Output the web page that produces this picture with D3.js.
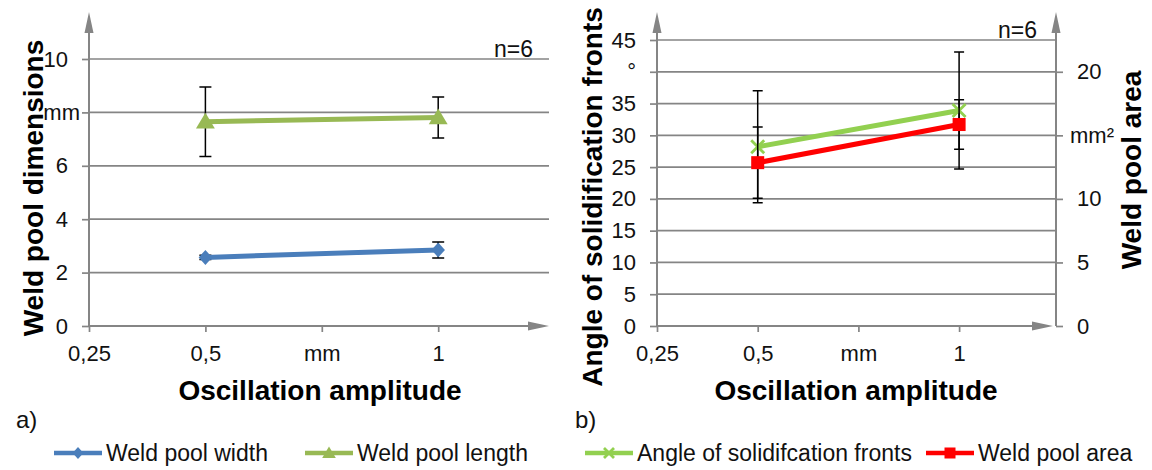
<!DOCTYPE html>
<html><head><meta charset="utf-8">
<script src="https://cdn.jsdelivr.net/npm/d3@7"></script>
<style>
body{margin:0;background:#fff;}
svg{font-family:"Liberation Sans",Arial,sans-serif;display:block;}
</style></head><body>
<svg id="c" width="1152" height="470"></svg>
<script>
// ---------- data ----------
const xCategories = ["0,25", "0,5", "mm", "1", ""];
const amplitudes = ["0,5", "1"];
const poolWidth = [2.57, 2.85];
const poolWidthErr = [0.08, 0.3];
const poolLength = [7.65, 7.81];
const poolLengthErr = [1.3, 0.77];
const angleFronts = [28.2, 33.9];
const angleFrontsErr = [8.8, 9.2];
const poolArea = [12.85, 15.85];
const poolAreaErr = [2.8, 1.95];
const dimTicks = [0, 2, 4, 6, 8, 10];
const dimLabels = ["0", "2", "4", "6", "mm", "10"];
const angleTicks = [0, 5, 10, 15, 20, 25, 30, 35, 40, 45];
const angleLabels = ["0", "5", "10", "15", "20", "25", "30", "35", "°", "45"];
const areaTicks = [0, 5, 10, 15, 20];
const areaLabels = ["0", "5", "10", "mm²", "20"];

// ---------- style ----------
const GRID = "#858585", AXIS = "#858585", TXT = "#111";
const C_WIDTH = "#4a7ebb", C_LENGTH = "#98b954", C_ANGLE = "#92d050", C_AREA = "#ff0000";
const FONT = "Liberation Sans, Arial, sans-serif";
const TICK_FS = 22, LEG_FS = 23;

const svg = d3.select("#c");

function drawMarker(g, type, x, y, size, color) {
  if (type === "diamond") {
    g.append("path").attr("d", `M${x},${y - size}L${x + size * 0.9},${y}L${x},${y + size}L${x - size * 0.9},${y}Z`).attr("fill", color);
  } else if (type === "triangle") {
    g.append("path").attr("d", `M${x},${y - size}L${x + size * 1.05},${y + size * 0.75}L${x - size * 1.05},${y + size * 0.75}Z`).attr("fill", color);
  } else if (type === "square") {
    g.append("rect").attr("x", x - size).attr("y", y - size).attr("width", 2 * size).attr("height", 2 * size).attr("fill", color);
  } else if (type === "x") {
    g.append("path").attr("d", `M${x - size},${y - size}L${x + size},${y + size}M${x - size},${y + size}L${x + size},${y - size}`)
      .attr("stroke", color).attr("stroke-width", 2.8).attr("fill", "none");
  }
}

function panel(cfg) {
  const g = svg.append("g");
  const x = d3.scalePoint().domain(xCategories).range([cfg.x0, cfg.x0 + 4 * cfg.step]);
  const y = d3.scaleLinear().domain([0, cfg.yMax]).range([326, cfg.yTop]);

  // grid
  g.append("g").selectAll("line").data(cfg.yTicks.slice(1)).join("line")
    .attr("x1", cfg.x0).attr("x2", cfg.xEnd)
    .attr("y1", d => y(d)).attr("y2", d => y(d))
    .attr("stroke", GRID).attr("stroke-width", 1.7);

  // left axis
  const ya = g.append("g").attr("transform", `translate(${cfg.x0},0)`)
    .call(d3.axisLeft(y).tickValues(cfg.yTicks).tickFormat((d, i) => cfg.yLabels[i]).tickSize(7).tickPadding(14));
  ya.select(".domain").remove();
  ya.selectAll(".tick line").attr("stroke", AXIS).attr("stroke-width", 1.7);
  ya.selectAll(".tick text").attr("font-size", TICK_FS).attr("fill", TXT).attr("font-family", FONT);
  ya.selectAll(".tick text").filter(t => cfg.yLabels[cfg.yTicks.indexOf(t)] === "mm").attr("dx", 12);

  // x axis
  const xa = g.append("g").attr("transform", "translate(0,326)")
    .call(d3.axisBottom(x).tickValues(xCategories.slice(0, 4)).tickSize(6).tickPadding(13).tickSizeOuter(0));
  xa.select(".domain").remove();
  xa.selectAll(".tick line").attr("stroke", AXIS).attr("stroke-width", 1.7);
  xa.selectAll(".tick text").attr("font-size", TICK_FS).attr("fill", TXT).attr("font-family", FONT);

  // axis lines + arrows
  g.append("line").attr("x1", cfg.x0).attr("x2", cfg.x0).attr("y1", 326).attr("y2", 28).attr("stroke", AXIS).attr("stroke-width", 2);
  g.append("path").attr("d", `M${cfg.x0},12L${cfg.x0 + 4.5},33L${cfg.x0 - 4.5},33Z`).attr("fill", AXIS);
  const xArrowEnd = cfg.xArrow;
  g.append("line").attr("x1", cfg.x0).attr("x2", xArrowEnd - 15).attr("y1", 326).attr("y2", 326).attr("stroke", AXIS).attr("stroke-width", 2);
  g.append("path").attr("d", `M${xArrowEnd},326L${xArrowEnd - 21},321.5L${xArrowEnd - 21},330.5Z`).attr("fill", AXIS);

  // right axis (optional)
  let y2 = null;
  if (cfg.right) {
    y2 = d3.scaleLinear().domain([0, cfg.right.max]).range([326, cfg.yTop]);
    const ra = g.append("g").attr("transform", `translate(${cfg.xEnd},0)`)
      .call(d3.axisRight(y2).tickValues(cfg.right.ticks).tickFormat((d, i) => cfg.right.labels[i]).tickSize(7).tickPadding(14));
    ra.select(".domain").remove();
    ra.selectAll(".tick line").attr("stroke", AXIS).attr("stroke-width", 1.7);
    ra.selectAll(".tick text").attr("font-size", TICK_FS).attr("fill", TXT).attr("font-family", FONT);
    ra.selectAll(".tick text").filter(t => cfg.right.labels[cfg.right.ticks.indexOf(t)] === "mm²").attr("dx", -7);
    g.append("line").attr("x1", cfg.xEnd).attr("x2", cfg.xEnd).attr("y1", 326).attr("y2", 28).attr("stroke", AXIS).attr("stroke-width", 2);
    g.append("path").attr("d", `M${cfg.xEnd},12L${cfg.xEnd + 4.5},33L${cfg.xEnd - 4.5},33Z`).attr("fill", AXIS);
  }

  // series
  cfg.series.forEach(s => {
    const ys = s.axis === "right" ? y2 : y;
    const pts = amplitudes.map((a, i) => [x(a), ys(s.values[i])]);
    amplitudes.forEach((a, i) => {
      const cx = x(a), t = ys(s.values[i] + s.err[i]), b = ys(s.values[i] - s.err[i]);
      g.append("path").attr("d", `M${cx},${t}L${cx},${b}M${cx - cfg.cap},${t}L${cx + cfg.cap},${t}M${cx - cfg.cap},${b}L${cx + cfg.cap},${b}`)
        .attr("stroke", "#000").attr("stroke-width", 1.5).attr("fill", "none");
    });
    g.append("path").attr("d", d3.line()(pts)).attr("stroke", s.color).attr("stroke-width", 5).attr("fill", "none");
    pts.forEach(p => drawMarker(g, s.marker, p[0], p[1], s.msize, s.color));
  });

  // titles
  g.append("text").attr("transform", `translate(${cfg.yTitleX},${cfg.yTitleY}) rotate(-90)`)
    .attr("text-anchor", "middle").attr("font-size", 28).attr("font-weight", "bold").attr("fill", "#000").text(cfg.yTitle);
  if (cfg.right) {
    g.append("text").attr("transform", `translate(${cfg.right.titleX},${cfg.right.titleY}) rotate(-90)`)
      .attr("text-anchor", "middle").attr("font-size", 28).attr("font-weight", "bold").attr("fill", "#000").text(cfg.right.title);
  }
  g.append("text").attr("x", cfg.xTitleX).attr("y", 400).attr("text-anchor", "middle")
    .attr("font-size", 28).attr("font-weight", "bold").attr("fill", "#000").text("Oscillation amplitude");
  g.append("text").attr("x", cfg.nX).attr("y", cfg.nY).attr("text-anchor", "end").attr("font-size", LEG_FS).attr("fill", TXT).text("n=6");
  g.append("text").attr("x", cfg.labX).attr("y", 428).attr("font-size", 24).attr("fill", TXT).text(cfg.lab);

  // legend
  cfg.legend.forEach(l => {
    g.append("line").attr("x1", l.x).attr("x2", l.x + 48).attr("y1", 453).attr("y2", 453).attr("stroke", l.color).attr("stroke-width", 4.5);
    drawMarker(g, l.marker, l.x + 24, 453, l.msize, l.color);
    g.append("text").attr("x", l.x + 52).attr("y", 453).attr("dy", "0.35em").attr("font-size", LEG_FS).attr("fill", TXT).text(l.name);
  });
}

panel({
  x0: 89, step: 116.4, xEnd: 549, xArrow: 549, yMax: 10, yTop: 59,
  yTicks: dimTicks, yLabels: dimLabels, cap: 6,
  series: [
    { values: poolWidth, err: poolWidthErr, color: C_WIDTH, marker: "diamond", msize: 7.5 },
    { values: poolLength, err: poolLengthErr, color: C_LENGTH, marker: "triangle", msize: 9 }
  ],
  yTitle: "Weld pool dimensions", yTitleX: 43, yTitleY: 188,
  xTitleX: 320, nX: 533, nY: 57, lab: "a)", labX: 16,
  legend: [
    { x: 54, color: C_WIDTH, marker: "diamond", msize: 6, name: "Weld pool width" },
    { x: 305, color: C_LENGTH, marker: "triangle", msize: 6.5, name: "Weld pool length" }
  ]
});

panel({
  x0: 657, step: 100.7, xEnd: 1056, xArrow: 1053, yMax: 45, yTop: 40,
  yTicks: angleTicks, yLabels: angleLabels, cap: 5,
  right: { max: 22.5, ticks: areaTicks, labels: areaLabels, title: "Weld pool area", titleX: 1141, titleY: 170 },
  series: [
    { values: angleFronts, err: angleFrontsErr, color: C_ANGLE, marker: "x", msize: 6.5 },
    { values: poolArea, err: poolAreaErr, color: C_AREA, marker: "square", msize: 6.5, axis: "right" }
  ],
  yTitle: "Angle of solidification fronts", yTitleX: 602, yTitleY: 197,
  xTitleX: 856, nX: 1037, nY: 38, lab: "b)", labX: 575,
  legend: [
    { x: 585, color: C_ANGLE, marker: "x", msize: 5, name: "Angle of solidifcation fronts" },
    { x: 926, color: C_AREA, marker: "square", msize: 5.5, name: "Weld pool area" }
  ]
});
</script>
</body></html>
